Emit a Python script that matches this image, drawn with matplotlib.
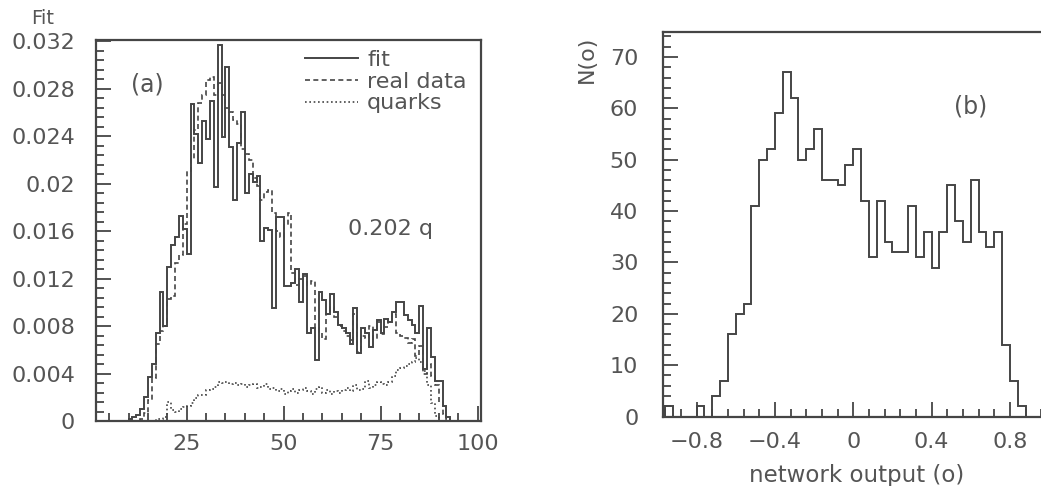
import numpy as np
import matplotlib.pyplot as plt
from matplotlib.ticker import MultipleLocator

# ---- panel (a): bins of width 1, values in units of 1e-3 ----
fit_start = 10
fit_vals = [0.2, 0.3, 0.5, 1.0, 2.0, 3.7, 4.8, 7.4, 10.9, 8.0,
            13.0, 14.8, 15.5, 17.3, 16.2, 14.1, 26.7, 24.2, 21.7, 25.3,
            23.8, 27.0, 19.7, 31.7, 23.9, 29.8, 23.1, 18.6, 23.4, 26.0,
            19.2, 20.8, 20.1, 20.6, 15.2, 16.3, 16.1, 9.5, 17.2, 17.2,
            11.4, 11.4, 11.6, 12.8, 10.0, 12.4, 7.4, 7.8, 5.1, 10.9,
            10.2, 9.0, 10.7, 9.2, 8.1, 7.8, 7.4, 6.5, 9.5, 5.7,
            7.8, 7.4, 6.2, 7.7, 8.5, 7.4, 8.6, 8.3, 9.2, 10.0,
            10.0, 8.9, 8.5, 8.1, 7.4, 9.7, 4.4, 7.8, 5.4, 3.4,
            3.4, 1.3, 0.3]

real_start = 13
real_vals = [0.2, 0.7, 1.8, 3.6, 6.5, 7.6, 8.0, 10.3, 10.5, 13.3,
             14.0, 16.6, 21.1, 22.1, 24.5, 26.8, 27.5, 28.7, 29.0, 27.5,
             28.5, 27.5, 26.4, 26.0, 25.4, 25.0, 22.9, 22.5, 22.0, 20.5,
             19.8, 18.6, 19.3, 19.5, 17.5, 16.0, 15.5, 16.5, 17.5, 12.5,
             11.5, 12.0, 12.2, 11.5, 11.8, 7.8, 7.5, 6.9, 9.0, 9.6,
             8.8, 8.0, 7.6, 7.2, 6.8, 9.0, 5.8, 7.2, 7.0, 8.0,
             6.9, 8.3, 7.3, 7.9, 8.6, 9.0, 7.4, 7.2, 7.0, 6.6,
             6.9, 5.5, 6.3, 4.0, 4.8, 3.8, 3.0, 1.6, 0.6, 0.2]

quark_start = 17
quark_vals = [0.2, 0.2, 0.3, 1.6, 0.9, 0.8, 1.0, 1.2, 1.3, 1.5,
              1.9, 2.2, 2.2, 2.6, 2.7, 2.9, 3.3, 3.2, 3.3, 3.1,
              3.2, 3.0, 3.1, 2.9, 3.0, 3.1, 2.8, 2.9, 3.1, 2.7,
              2.8, 2.5, 2.7, 2.3, 2.5, 2.7, 2.4, 2.6, 2.8, 2.5,
              2.3, 2.7, 2.9, 2.4, 2.6, 2.3, 2.5, 2.4, 2.6, 2.8,
              2.5, 3.0, 2.6, 2.7, 3.4, 2.8, 3.0, 3.3, 3.1, 3.0,
              3.3, 3.8, 4.3, 4.5, 4.6, 4.8, 5.0, 5.3, 5.0, 4.2,
              3.0, 1.5, 0.4]

# ---- panel (b): bins of width 0.04 starting at -0.96 ----
b_start = -0.96
b_width = 0.04
b_counts = [2, 0, 0, 0, 2, 0,
            4, 7, 16, 20, 22, 41, 50, 52, 59, 67, 62, 50, 52, 56,
            46, 46, 45, 49, 52, 42, 31, 42, 34, 32, 32, 41, 31, 36,
            29, 36, 45, 38, 34, 46, 36, 33, 36, 14, 7, 2]

ink = "#454545"
txt = "#555555"
fs = 16

plt.rcParams["font.family"] = "DejaVu Sans"


def style_axes(ax):
    for s in ax.spines.values():
        s.set_color(ink)
        s.set_linewidth(1.6)
    ax.tick_params(which="both", direction="in", color=ink, width=1.3,
                   labelcolor=txt, labelsize=fs)
    ax.tick_params(which="major", length=11)
    ax.tick_params(which="minor", length=6)


def hist(ax, start, vals, width, **kw):
    edges = start + width * np.arange(len(vals) + 1)
    ax.stairs(vals, edges, **kw)


fig = plt.figure(figsize=(10.41, 4.86), dpi=100)

# panel (a)
ax1 = fig.add_axes([96 / 1041, 65 / 486, 385 / 1041, 381 / 486])

hist(ax1, fit_start, np.array(fit_vals) * 1e-3, 1, color=ink, lw=1.4,
     label="fit")
hist(ax1, real_start, np.array(real_vals) * 1e-3, 1, color=ink, lw=1.2,
     ls=(0, (3, 2)), label="real data")
hist(ax1, quark_start, np.array(quark_vals) * 1e-3, 1, color=ink, lw=1.2,
     ls=(0, (1, 1.6)), label="quarks")

ax1.set_xlim(1.6, 100.9)
ax1.set_ylim(0, 0.0321)
ax1.set_xticks([25, 50, 75, 100])
ax1.set_xticklabels(["25", "50", "75", "100"])
ax1.xaxis.set_minor_locator(MultipleLocator(5))
ax1.set_yticks([0, 0.004, 0.008, 0.012, 0.016, 0.02, 0.024, 0.028, 0.032])
ax1.set_yticklabels(["0", "0.004", "0.008", "0.012", "0.016", "0.02",
                     "0.024", "0.028", "0.032"])
ax1.yaxis.set_minor_locator(MultipleLocator(0.0008))
style_axes(ax1)
ax1.tick_params(axis="y", pad=15)
ax1.tick_params(axis="x", pad=9)

ax1.legend(loc="upper right", bbox_to_anchor=(1.0, 1.012), frameon=False,
           fontsize=fs, handlelength=2.4, handletextpad=0.4,
           labelspacing=0.08, borderaxespad=0.25, labelcolor=txt)
ax1.text(0.132, 0.882, "(a)", transform=ax1.transAxes, fontsize=fs + 1,
         color=txt, ha="center", va="center")
ax1.text(0.765, 0.505, "0.202 q", transform=ax1.transAxes, fontsize=fs,
         color=txt, ha="center", va="center")
fig.text(43 / 1041, 1 - 18 / 486, "Fit", fontsize=14, color=txt,
         ha="center", va="center")

# panel (b)
ax2 = fig.add_axes([663.3 / 1041, 69.5 / 486, 385.7 / 1041, 384.2 / 486])
hist(ax2, b_start, b_counts, b_width, color=ink, lw=1.4)
ax2.set_xlim(-0.97, 1.0)
ax2.set_ylim(0, 74.8)
ax2.set_xticks([-0.8, -0.4, 0, 0.4, 0.8])
ax2.set_xticklabels(["\u22120.8", "\u22120.4", "0", "0.4", "0.8"])
ax2.xaxis.set_minor_locator(MultipleLocator(0.08))
ax2.yaxis.set_major_locator(MultipleLocator(10))
ax2.yaxis.set_minor_locator(MultipleLocator(2))
style_axes(ax2)
ax2.tick_params(axis="y", pad=18)
ax2.tick_params(axis="x", pad=11)
ax2.text(0.796, 0.806, "(b)", transform=ax2.transAxes, fontsize=fs + 1,
         color=txt, ha="center", va="center")
ax2.set_xlabel("network output (o)", fontsize=fs + 0.5, color=txt,
               labelpad=9)
fig.text(587 / 1041, 1 - 59 / 486, "N(o)", rotation=90, fontsize=fs,
         color=txt, ha="center", va="center")

fig.savefig("out.png", dpi=100)
